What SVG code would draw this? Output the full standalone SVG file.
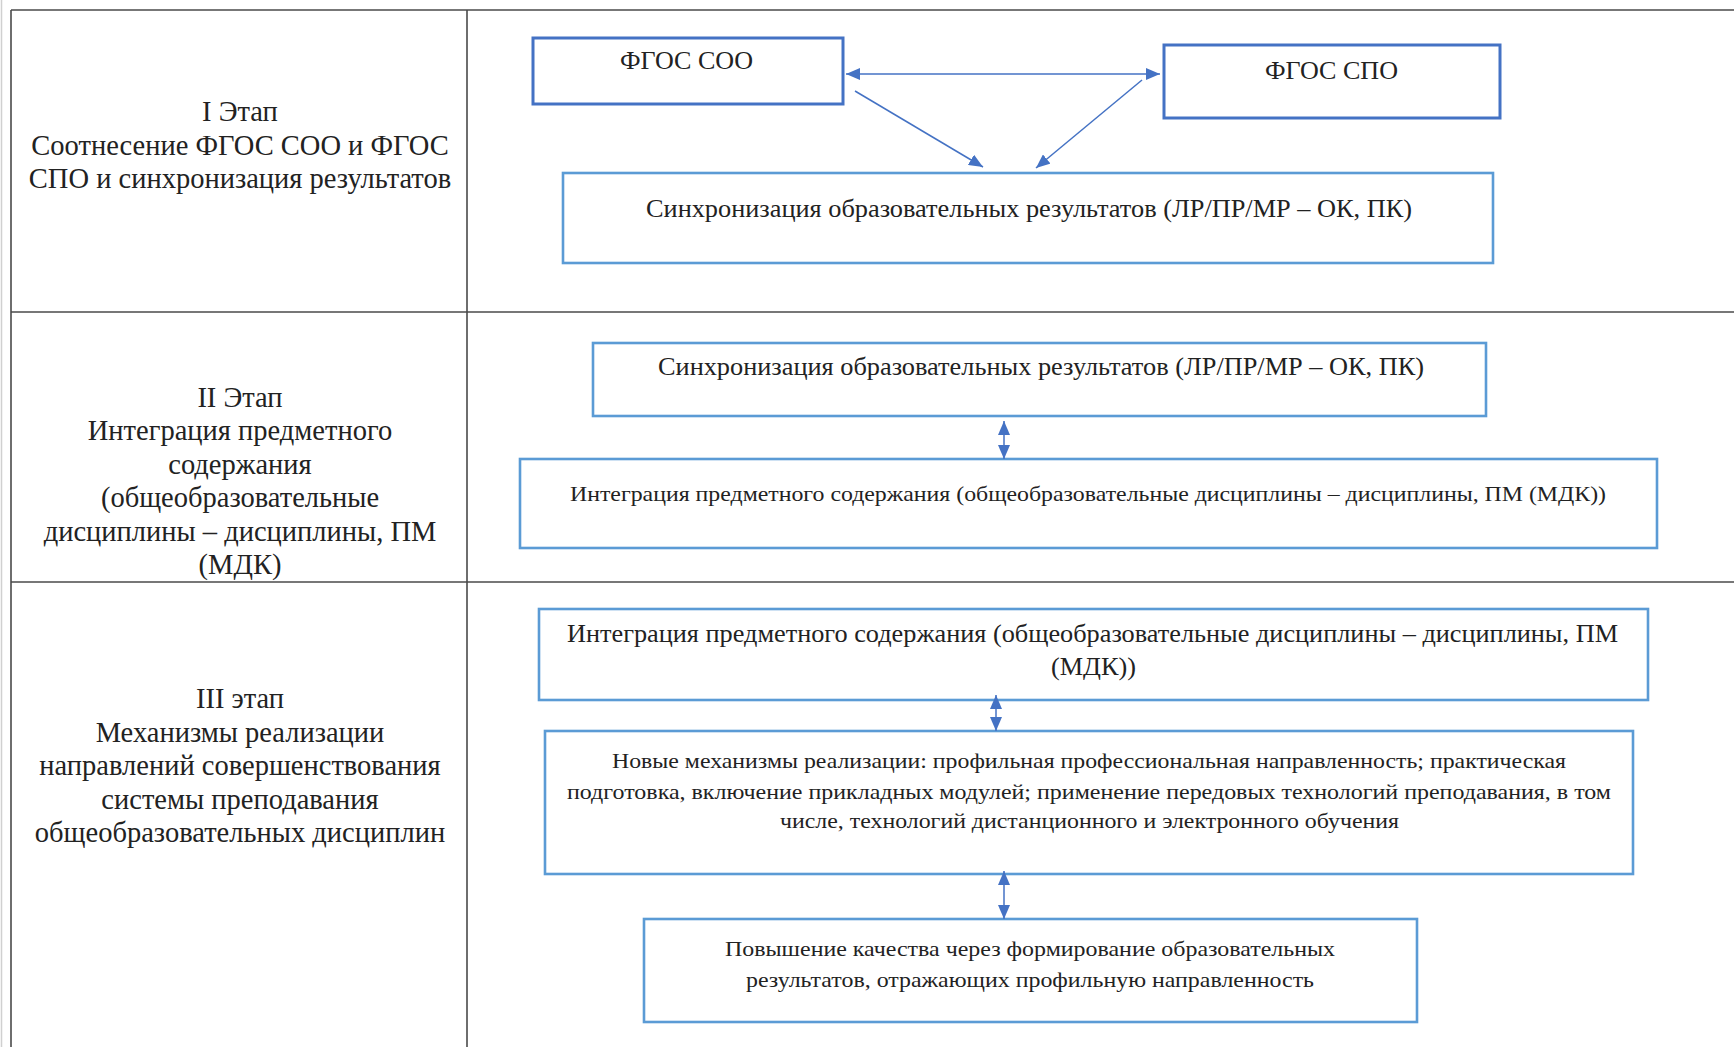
<svg xmlns="http://www.w3.org/2000/svg" width="1734" height="1047" viewBox="0 0 1734 1047">
<style>
.grid{stroke:#4a4a4a;stroke-width:1.6;fill:none}
.stage{font-family:"Liberation Serif","Times New Roman",serif;font-size:28.5px;fill:#222;text-anchor:middle}
.bt{font-family:"Liberation Serif","Times New Roman",serif;font-size:25px;fill:#222;text-anchor:middle}
.bs{font-family:"Liberation Serif","Times New Roman",serif;font-size:22px;fill:#222;text-anchor:middle}
.boxd{fill:#fff;stroke:#4472C4;stroke-width:3}
.boxl{fill:#fff;stroke:#5B9BD5;stroke-width:2.6}
.con{stroke:#4472C4;stroke-width:1.5;fill:none}
</style>
<defs>
<marker id="ah" markerUnits="userSpaceOnUse" markerWidth="15" markerHeight="12" refX="14" refY="6" orient="auto-start-reverse">
<path d="M0,0 L14,6 L0,12 z" fill="#4472C4"/>
</marker>
</defs>
<rect width="1734" height="1047" fill="#fff"/>
<g id="table">
<line x1="1.5" y1="0" x2="1.5" y2="1047" stroke="#d0d0d0" stroke-width="1.5"/>
<line class="grid" x1="11" y1="10" x2="1734" y2="10"/>
<line class="grid" x1="11" y1="10" x2="11" y2="1047"/>
<line class="grid" x1="467" y1="10" x2="467" y2="1047"/>
<line class="grid" x1="11" y1="312" x2="1734" y2="312"/>
<line class="grid" x1="11" y1="582" x2="1734" y2="582"/>
</g>
<g id="stage1">
<text class="stage" x="240" y="121">I Этап</text>
<text class="stage" x="240" y="154.5">Соотнесение ФГОС СОО и ФГОС</text>
<text class="stage" x="240" y="188">СПО и синхронизация результатов</text>
</g>
<g id="stage2">
<text class="stage" x="240" y="406.5">II Этап</text>
<text class="stage" x="240" y="440">Интеграция предметного</text>
<text class="stage" x="240" y="473.5">содержания</text>
<text class="stage" x="240" y="507">(общеобразовательные</text>
<text class="stage" x="240" y="540.5">дисциплины – дисциплины, ПМ</text>
<text class="stage" x="240" y="574">(МДК)</text>
</g>
<g id="stage3">
<text class="stage" x="240" y="708">III этап</text>
<text class="stage" x="240" y="741.5">Механизмы реализации</text>
<text class="stage" x="240" y="775">направлений совершенствования</text>
<text class="stage" x="240" y="808.5">системы преподавания</text>
<text class="stage" x="240" y="842">общеобразовательных дисциплин</text>
</g>
<g id="fgos-soo">
<rect class="boxd" x="533" y="38" width="310" height="66"/>
<text class="bt" x="686.5" y="69" textLength="133" lengthAdjust="spacingAndGlyphs">ФГОС СОО</text>
</g>
<g id="fgos-spo">
<rect class="boxd" x="1164" y="45" width="336" height="73"/>
<text class="bt" x="1331.5" y="79" textLength="133" lengthAdjust="spacingAndGlyphs">ФГОС СПО</text>
</g>
<g id="sync1">
<rect class="boxl" x="563" y="173" width="930" height="90"/>
<text class="bt" x="1029" y="217" textLength="766" lengthAdjust="spacingAndGlyphs">Синхронизация образовательных результатов (ЛР/ПР/МР – ОК, ПК)</text>
</g>
<g id="sync2">
<rect class="boxl" x="593" y="343" width="893" height="73"/>
<text class="bt" x="1041" y="375" textLength="766" lengthAdjust="spacingAndGlyphs">Синхронизация образовательных результатов (ЛР/ПР/МР – ОК, ПК)</text>
</g>
<g id="integr2">
<rect class="boxl" x="520" y="459" width="1137" height="89"/>
<text class="bs" x="1088" y="501" textLength="1036" lengthAdjust="spacingAndGlyphs">Интеграция предметного содержания (общеобразовательные дисциплины – дисциплины, ПМ (МДК))</text>
</g>
<g id="integr3">
<rect class="boxl" x="539" y="609" width="1109" height="91"/>
<text class="bt" x="1092.5" y="642" textLength="1051" lengthAdjust="spacingAndGlyphs">Интеграция предметного содержания (общеобразовательные дисциплины – дисциплины, ПМ</text>
<text class="bt" x="1093.5" y="675" textLength="85" lengthAdjust="spacingAndGlyphs">(МДК))</text>
</g>
<g id="mechanisms">
<rect class="boxl" x="545" y="731" width="1088" height="143"/>
<text class="bs" x="1089" y="768" textLength="954" lengthAdjust="spacingAndGlyphs">Новые механизмы реализации: профильная профессиональная направленность; практическая</text>
<text class="bs" x="1089" y="799" textLength="1044" lengthAdjust="spacingAndGlyphs">подготовка, включение прикладных модулей; применение передовых технологий преподавания, в том</text>
<text class="bs" x="1089.5" y="828" textLength="619" lengthAdjust="spacingAndGlyphs">числе, технологий дистанционного и электронного обучения</text>
</g>
<g id="quality">
<rect class="boxl" x="644" y="919" width="773" height="103"/>
<text class="bs" x="1030" y="956" textLength="610" lengthAdjust="spacingAndGlyphs">Повышение качества через формирование образовательных</text>
<text class="bs" x="1030" y="987" textLength="568" lengthAdjust="spacingAndGlyphs">результатов, отражающих профильную направленность</text>
</g>
<g id="connectors">
<line class="con" x1="846" y1="74" x2="1160" y2="74" marker-start="url(#ah)" marker-end="url(#ah)"/>
<line class="con" x1="855" y1="91" x2="983" y2="167" marker-end="url(#ah)"/>
<line class="con" x1="1142" y1="80" x2="1036" y2="168" marker-end="url(#ah)"/>
<line class="con" x1="1004" y1="421" x2="1004" y2="459" marker-start="url(#ah)" marker-end="url(#ah)"/>
<line class="con" x1="996" y1="695" x2="996" y2="731" marker-start="url(#ah)" marker-end="url(#ah)"/>
<line class="con" x1="1004" y1="871" x2="1004" y2="919" marker-start="url(#ah)" marker-end="url(#ah)"/>
</g>
</svg>
